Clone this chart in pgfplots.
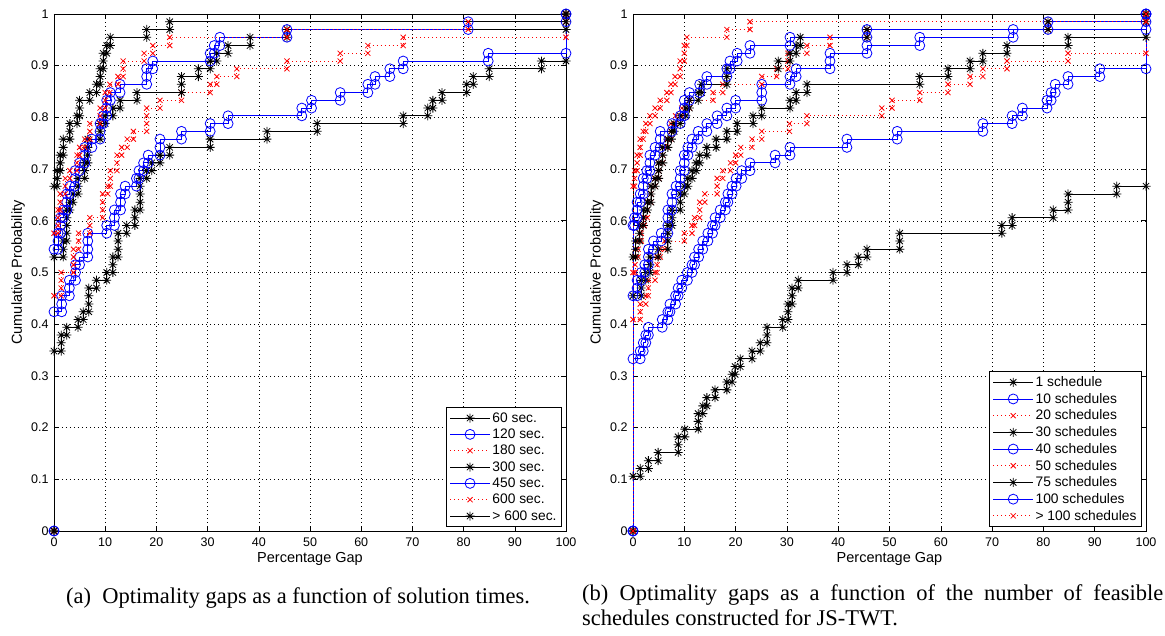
\documentclass[border=0pt]{standalone}
\usepackage{pgfplots}
\pgfplotsset{compat=1.18}
\usepackage{fontspec}
\setmainfont{Liberation Sans}
\newfontfamily\capfont{Liberation Serif}

% MATLAB-like eight-armed star
\pgfdeclareplotmark{mstar}{%
  \pgfpathmoveto{\pgfqpoint{-\pgfplotmarksize}{0pt}}\pgfpathlineto{\pgfqpoint{\pgfplotmarksize}{0pt}}%
  \pgfpathmoveto{\pgfqpoint{0pt}{-\pgfplotmarksize}}\pgfpathlineto{\pgfqpoint{0pt}{\pgfplotmarksize}}%
  \pgfpathmoveto{\pgfqpoint{-.707\pgfplotmarksize}{-.707\pgfplotmarksize}}\pgfpathlineto{\pgfqpoint{.707\pgfplotmarksize}{.707\pgfplotmarksize}}%
  \pgfpathmoveto{\pgfqpoint{-.707\pgfplotmarksize}{.707\pgfplotmarksize}}\pgfpathlineto{\pgfqpoint{.707\pgfplotmarksize}{-.707\pgfplotmarksize}}%
  \pgfusepathqstroke}

\pgfplotsset{
  cdf/.style={
    scale only axis, width=512pt, height=517pt,
    xmin=0, xmax=100, ymin=0, ymax=1, clip=false,
    xtick={0,10,20,30,40,50,60,70,80,90,100},
    ytick={0,0.1,0.2,0.3,0.4,0.5,0.6,0.7,0.8,0.9,1},
    /pgf/number format/assume math mode=true,
    tick label style={font=\fontsize{12.5}{14}\selectfont},
    xticklabel style={yshift=-3pt},
    yticklabel style={xshift=-2pt},
    label style={font=\fontsize{14.5}{16}\selectfont},
    xlabel={Percentage Gap}, ylabel={Cumulative Probability},
    xlabel style={at={(axis description cs:0.5,-0.0542)}, anchor=center},
    ylabel style={at={(axis description cs:-0.0703,0.5)}, anchor=center},
    grid=major, grid style={black, line width=0.5pt, dash pattern=on 0.5pt off 3.5pt},
    axis line style={line width=0.8pt},
    major tick length=5pt, tick style={black, line width=0.6pt}, tick align=inside,
    legend cell align=left,
    legend style={at={(axis description cs:0.992,0.0077)}, anchor=south east,
      draw=black, line width=0.8pt, fill=white, inner sep=3pt, row sep=1.2pt,
      font=\fontsize{13.8}{15}\selectfont},
    legend image code/.code={\draw[mark repeat=2,mark phase=2,#1] plot coordinates {(0pt,0pt) (20pt,0pt) (40pt,0pt)};},
  },
  blk/.style={black, line width=0.8pt, mark=mstar, mark size=4.5pt, mark options={solid}},
  blu/.style={blue, line width=0.8pt, mark=o, mark size=5pt, mark options={solid}},
  rd/.style={red, line width=0.8pt, dash pattern=on 1pt off 3pt, mark=x, mark size=3.6pt, mark options={solid}},
}

\begin{document}
\begin{tikzpicture}
\path[use as bounding box] (0,0) rectangle (1165pt,636pt);

% (a) solution times
\begin{axis}[cdf, at={(54pt,105pt)}, anchor=south west]
\addplot[blk] coordinates {(0,0)(0,.348)(1.4,.348)(1.4,.364)(1.4,.379)(2.5,.379)(2.5,.394)(4.7,.394)(4.7,.409)(5.7,.409)(5.7,.424)(6.8,.424)(6.8,.439)(6.8,.455)(6.8,.470)(8.3,.470)(8.3,.485)(10.3,.485)(10.3,.500)(11.5,.500)(11.5,.515)(11.5,.530)(12.5,.530)(12.5,.545)(12.5,.561)(12.5,.576)(14.2,.576)(14.2,.591)(15.8,.591)(15.8,.606)(15.8,.621)(16.8,.621)(16.8,.636)(16.8,.652)(16.8,.667)(16.8,.682)(18.1,.682)(18.1,.697)(19.1,.697)(19.1,.712)(20.7,.712)(20.7,.727)(22.6,.727)(22.6,.742)(30.5,.742)(30.5,.758)(41.6,.758)(41.6,.773)(51.4,.773)(51.4,.788)(68.2,.788)(68.2,.803)(73,.803)(73,.818)(74,.818)(74,.833)(75.8,.833)(75.8,.848)(80.6,.848)(80.6,.864)(81.9,.864)(81.9,.879)(85,.879)(85,.894)(95.2,.894)(95.2,.909)(100,.909)(100,1)};
\addlegendentry{60 sec.}
\addplot[blu] coordinates {(0,0)(0,.424)(1.5,.424)(1.5,.439)(1.5,.455)(3,.455)(3,.470)(3,.485)(4.2,.485)(4.2,.500)(4.2,.515)(5,.515)(5,.530)(6.6,.530)(6.6,.545)(6.6,.561)(6.6,.576)(10.3,.576)(10.3,.591)(11.8,.591)(11.8,.606)(11.8,.621)(13,.621)(13,.636)(13,.652)(13.9,.652)(13.9,.667)(16.1,.667)(16.1,.682)(16.6,.682)(16.6,.697)(17.5,.697)(17.5,.712)(18.4,.712)(18.4,.727)(20.7,.727)(20.7,.742)(20.7,.758)(24.9,.758)(24.9,.773)(30.5,.773)(30.5,.788)(34,.788)(34,.803)(48.4,.803)(48.4,.818)(50.3,.818)(50.3,.833)(55.9,.833)(55.9,.848)(61.3,.848)(61.3,.864)(62.7,.864)(62.7,.879)(65.6,.879)(65.6,.894)(68.2,.894)(68.2,.909)(84.8,.909)(84.8,.924)(100,.924)(100,1)};
\addlegendentry{120 sec.}
\addplot[rd] coordinates {(0,0)(0,.455)(1.4,.455)(1.4,.470)(1.4,.485)(1.4,.500)(3.8,.500)(3.8,.515)(3.8,.530)(3.8,.545)(4.8,.545)(4.8,.561)(4.8,.576)(7,.576)(7,.591)(7,.606)(9.5,.606)(9.5,.621)(9.5,.636)(9.5,.652)(10.5,.652)(10.5,.667)(11,.667)(11,.682)(11,.697)(12.3,.697)(12.3,.712)(12.3,.727)(13.2,.727)(13.2,.742)(14.3,.742)(14.3,.758)(15.5,.758)(15.5,.773)(18.1,.773)(18.1,.788)(18.1,.803)(18.1,.818)(20.7,.818)(20.7,.833)(24.9,.833)(24.9,.848)(30.5,.848)(30.5,.864)(31.8,.864)(31.8,.879)(35.7,.879)(35.7,.894)(45.5,.894)(45.5,.909)(55.9,.909)(55.9,.924)(61.3,.924)(61.3,.939)(68.2,.939)(68.2,.955)(100,.955)(100,1)};
\addlegendentry{180 sec.}
\addplot[blk] coordinates {(0,0)(0,.530)(1.8,.530)(1.8,.545)(1.8,.561)(2.5,.561)(2.5,.576)(2.5,.591)(2.5,.606)(2.5,.621)(3.1,.621)(3.1,.636)(3.7,.636)(3.7,.652)(4.7,.652)(4.7,.667)(4.7,.682)(6,.682)(6,.697)(6,.712)(6.6,.712)(6.6,.727)(6.6,.742)(6.6,.758)(9,.758)(9,.773)(9,.788)(10,.788)(10,.803)(11.5,.803)(11.5,.818)(12.9,.818)(12.9,.833)(16.2,.833)(16.2,.848)(24.9,.848)(24.9,.864)(24.9,.879)(28.2,.879)(28.2,.894)(30.5,.894)(30.5,.909)(31.8,.909)(31.8,.924)(34,.924)(34,.939)(38.3,.939)(38.3,.955)(45.5,.955)(45.5,.970)(100,.970)(100,1)};
\addlegendentry{300 sec.}
\addplot[blu] coordinates {(0,0)(0,.545)(0.8,.545)(0.8,.561)(0.8,.576)(1.3,.576)(1.3,.591)(1.3,.606)(1.8,.606)(1.8,.621)(2.5,.621)(2.5,.636)(2.5,.652)(3.1,.652)(3.1,.667)(4.1,.667)(4.1,.682)(4.1,.697)(5,.697)(5,.712)(6,.712)(6,.727)(6,.742)(7.4,.742)(7.4,.758)(9,.758)(9,.773)(9,.788)(9.6,.788)(9.6,.803)(10.3,.803)(10.3,.818)(10.3,.833)(11,.833)(11,.848)(12.9,.848)(12.9,.864)(18.1,.864)(18.1,.879)(18.1,.894)(19.3,.894)(19.3,.909)(30.5,.909)(30.5,.924)(31.3,.924)(31.3,.939)(32.4,.939)(32.4,.955)(45.5,.955)(45.5,.970)(80.9,.970)(80.9,.985)(100,.985)(100,1)};
\addlegendentry{450 sec.}
\addplot[rd] coordinates {(0,0)(0,.576)(0.8,.576)(0.8,.591)(0.8,.606)(0.8,.621)(1.2,.621)(1.2,.636)(1.2,.652)(2.2,.652)(2.2,.667)(2.2,.682)(3.1,.682)(3.1,.697)(4.5,.697)(4.5,.712)(4.5,.727)(5,.727)(5,.742)(6,.742)(6,.758)(7,.758)(7,.773)(7,.788)(9,.788)(9,.803)(9,.818)(10,.818)(10,.833)(10,.848)(10.9,.848)(10.9,.864)(12.5,.864)(12.5,.879)(13.5,.879)(13.5,.894)(13.5,.909)(17.6,.909)(17.6,.924)(19.3,.924)(19.3,.939)(22.6,.939)(22.6,.955)(45.5,.955)(45.5,.970)(80.9,.970)(80.9,.985)(100,.985)(100,1)};
\addlegendentry{600 sec.}
\addplot[blk] coordinates {(0,0)(0,.667)(0.6,.667)(0.6,.682)(0.6,.697)(1.2,.697)(1.2,.712)(1.2,.727)(1.8,.727)(1.8,.742)(1.8,.758)(3.1,.758)(3.1,.773)(3.1,.788)(4.5,.788)(4.5,.803)(5,.803)(5,.818)(5,.833)(7,.833)(7,.848)(8.3,.848)(8.3,.864)(9,.864)(9,.879)(9,.894)(9.6,.894)(9.6,.909)(9.6,.924)(10.3,.924)(10.3,.939)(11,.939)(11,.955)(18.1,.955)(18.1,.970)(22.6,.970)(22.6,.985)(100,.985)(100,1)};
\addlegendentry{> 600 sec.}
\end{axis}

% (b) number of feasible schedules
\begin{axis}[cdf, width=513pt, at={(633pt,105pt)}, anchor=south west]
\addplot[blk] coordinates {(0,0)(0,.106)(1.4,.106)(1.4,.121)(3,.121)(3,.136)(4.9,.136)(4.9,.152)(8.8,.152)(8.8,.167)(8.8,.182)(10.1,.182)(10.1,.197)(12.7,.197)(12.7,.212)(12.7,.227)(13.6,.227)(13.6,.242)(14.4,.242)(14.4,.258)(16,.258)(16,.273)(18.3,.273)(18.3,.288)(19.3,.288)(19.3,.303)(19.9,.303)(19.9,.318)(20.9,.318)(20.9,.333)(23.2,.333)(23.2,.348)(24.8,.348)(24.8,.364)(26.1,.364)(26.1,.379)(26.1,.394)(29.2,.394)(29.2,.409)(30.2,.409)(30.2,.424)(30.2,.439)(31,.439)(31,.455)(31,.470)(32.2,.470)(32.2,.485)(39,.485)(39,.500)(41.7,.500)(41.7,.515)(43.9,.515)(43.9,.530)(45.6,.530)(45.6,.545)(52,.545)(52,.561)(52,.576)(71.9,.576)(71.9,.591)(73.9,.591)(73.9,.606)(81.9,.606)(81.9,.621)(84.8,.621)(84.8,.636)(84.8,.652)(94.3,.652)(94.3,.667)(100,.667)(100,1)};
\addlegendentry{1 schedule}
\addplot[blu] coordinates {(0,0)(0,.333)(1.4,.333)(1.4,.348)(2,.348)(2,.364)(2.5,.364)(2.5,.379)(3,.379)(3,.394)(5.7,.394)(5.7,.409)(6.8,.409)(6.8,.424)(7.2,.424)(7.2,.439)(8.3,.439)(8.3,.455)(8.8,.455)(8.8,.470)(9.5,.470)(9.5,.485)(10.6,.485)(10.6,.500)(11.5,.500)(11.5,.515)(12,.515)(12,.530)(12.8,.530)(12.8,.545)(13.6,.545)(13.6,.561)(14.6,.561)(14.6,.576)(15.5,.576)(15.5,.591)(16,.591)(16,.606)(17,.606)(17,.621)(18,.621)(18,.636)(18.5,.636)(18.5,.652)(19.3,.652)(19.3,.667)(20.1,.667)(20.1,.682)(21.2,.682)(21.2,.697)(22.8,.697)(22.8,.712)(27.7,.712)(27.7,.727)(30.6,.727)(30.6,.742)(41.7,.742)(41.7,.758)(51.5,.758)(51.5,.773)(68.2,.773)(68.2,.788)(73.9,.788)(73.9,.803)(75.9,.803)(75.9,.818)(80.7,.818)(80.7,.833)(81.5,.833)(81.5,.848)(82.3,.848)(82.3,.864)(84.8,.864)(84.8,.879)(91,.879)(91,.894)(100,.894)(100,1)};
\addlegendentry{10 schedules}
\addplot[rd] coordinates {(0,0)(0,.409)(1.4,.409)(1.4,.424)(1.4,.439)(2.5,.439)(2.5,.455)(3,.455)(3,.470)(3,.485)(4.3,.485)(4.3,.500)(4.7,.500)(4.7,.515)(4.7,.530)(5.3,.530)(5.3,.545)(6.2,.545)(6.2,.561)(10,.561)(10,.576)(11.5,.576)(11.5,.591)(12,.591)(12,.606)(13,.606)(13,.621)(13,.636)(14,.636)(14,.652)(16.4,.652)(16.4,.667)(16.4,.682)(17.5,.682)(17.5,.697)(19,.697)(19,.712)(20,.712)(20,.727)(21,.727)(21,.742)(23.2,.742)(23.2,.758)(25.1,.758)(25.1,.773)(30.5,.773)(30.5,.788)(33.9,.788)(33.9,.803)(48.5,.803)(48.5,.818)(50.5,.818)(50.5,.833)(55.9,.833)(55.9,.848)(61.4,.848)(61.4,.864)(65.7,.864)(65.7,.879)(68.2,.879)(68.2,.894)(72.9,.894)(72.9,.909)(84.8,.909)(84.8,.924)(100,.924)(100,1)};
\addlegendentry{20 schedules}
\addplot[blk] coordinates {(0,0)(0,.455)(1.6,.455)(1.6,.470)(1.6,.485)(2.5,.485)(2.5,.500)(3.3,.500)(3.3,.515)(3.3,.530)(4.9,.530)(4.9,.545)(6.8,.545)(6.8,.561)(6.8,.576)(6.8,.591)(7.6,.591)(7.6,.606)(7.6,.621)(9.2,.621)(9.2,.636)(9.2,.652)(10,.652)(10,.667)(10.7,.667)(10.7,.682)(11.5,.682)(11.5,.697)(12.3,.697)(12.3,.712)(13,.712)(13,.727)(14.4,.727)(14.4,.742)(16.2,.742)(16.2,.758)(18.3,.758)(18.3,.773)(20.3,.773)(20.3,.788)(23.4,.788)(23.4,.803)(25.1,.803)(25.1,.818)(30.6,.818)(30.6,.833)(31.8,.833)(31.8,.848)(33.9,.848)(33.9,.864)(55.9,.864)(55.9,.879)(61.4,.879)(61.4,.894)(65.7,.894)(65.7,.909)(68.2,.909)(68.2,.924)(72.9,.924)(72.9,.939)(84.8,.939)(84.8,.955)(100,.955)(100,1)};
\addlegendentry{30 schedules}
\addplot[blu] coordinates {(0,0)(0,.455)(0.8,.455)(0.8,.470)(0.8,.485)(1.6,.485)(1.6,.500)(2.3,.500)(2.3,.515)(3,.515)(3,.530)(3,.545)(4,.545)(4,.561)(5.5,.561)(5.5,.576)(6.8,.576)(6.8,.591)(6.8,.606)(6.8,.621)(7.6,.621)(7.6,.636)(7.6,.652)(8.4,.652)(8.4,.667)(9.2,.667)(9.2,.682)(9.2,.697)(10,.697)(10,.712)(10,.727)(10.7,.727)(10.7,.742)(11.5,.742)(11.5,.758)(12.7,.758)(12.7,.773)(14.4,.773)(14.4,.788)(16.4,.788)(16.4,.803)(18.3,.803)(18.3,.818)(20,.818)(20,.833)(25.1,.833)(25.1,.848)(25.1,.864)(30.6,.864)(30.6,.879)(31.8,.879)(31.8,.894)(38.4,.894)(38.4,.909)(38.4,.924)(45.6,.924)(45.6,.939)(55.9,.939)(55.9,.955)(74.1,.955)(74.1,.970)(100,.970)(100,1)};
\addlegendentry{40 schedules}
\addplot[rd] coordinates {(0,0)(0,.500)(0.4,.500)(0.4,.515)(0.4,.530)(1,.530)(1,.545)(1,.561)(1.6,.561)(1.6,.576)(1.6,.591)(2.2,.591)(2.2,.606)(2.8,.606)(2.8,.621)(2.8,.636)(3.5,.636)(3.5,.652)(3.5,.667)(4.3,.667)(4.3,.682)(5,.682)(5,.697)(5,.712)(5.8,.712)(5.8,.727)(5.8,.742)(6.6,.742)(6.6,.758)(7.4,.758)(7.4,.773)(7.4,.788)(8.3,.788)(8.3,.803)(9.5,.803)(9.5,.818)(11,.818)(11,.833)(15.6,.833)(15.6,.848)(17.5,.848)(17.5,.864)(25.1,.864)(25.1,.879)(28,.879)(28,.894)(30.2,.894)(30.2,.909)(30.2,.924)(33.9,.924)(33.9,.939)(38.4,.939)(38.4,.955)(45.6,.955)(45.6,.970)(80.9,.970)(80.9,.985)(100,.985)(100,1)};
\addlegendentry{50 schedules}
\addplot[blk] coordinates {(0,0)(0,.530)(0.5,.530)(0.5,.545)(0.5,.561)(1.3,.561)(1.3,.576)(1.3,.591)(2,.591)(2,.606)(2,.621)(2.8,.621)(2.8,.636)(3.5,.636)(3.5,.652)(3.5,.667)(4.3,.667)(4.3,.682)(5,.682)(5,.697)(5,.712)(5.8,.712)(5.8,.727)(5.8,.742)(6.8,.742)(6.8,.758)(7.5,.758)(7.5,.773)(8,.773)(8,.788)(9.2,.788)(9.2,.803)(10.3,.803)(10.3,.818)(11,.818)(11,.833)(12.7,.833)(12.7,.848)(13.4,.848)(13.4,.864)(18.3,.864)(18.3,.879)(18.3,.894)(28.3,.894)(28.3,.909)(30.6,.909)(30.6,.924)(31.8,.924)(31.8,.939)(32.6,.939)(32.6,.955)(45.6,.955)(45.6,.970)(80.9,.970)(80.9,.985)(100,.985)(100,1)};
\addlegendentry{75 schedules}
\addplot[blu] coordinates {(0,0)(0,.591)(0.3,.591)(0.3,.606)(0.8,.606)(0.8,.621)(0.8,.636)(1.4,.636)(1.4,.652)(2,.652)(2,.667)(2,.682)(2.7,.682)(2.7,.697)(3.3,.697)(3.3,.712)(3.3,.727)(4.3,.727)(4.3,.742)(5.3,.742)(5.3,.758)(5.3,.773)(7.6,.773)(7.6,.788)(9.2,.788)(9.2,.803)(10,.803)(10,.818)(10,.833)(11,.833)(11,.848)(13,.848)(13,.864)(14.4,.864)(14.4,.879)(18.3,.879)(18.3,.894)(18.9,.894)(18.9,.909)(20.3,.909)(20.3,.924)(22.8,.924)(22.8,.939)(30.6,.939)(30.6,.955)(45.6,.955)(45.6,.970)(80.9,.970)(80.9,.985)(100,.985)(100,1)};
\addlegendentry{100 schedules}
\addplot[rd] coordinates {(0,0)(0,.667)(0.3,.667)(0.3,.682)(0.3,.697)(0.8,.697)(0.8,.712)(0.8,.727)(1.4,.727)(1.4,.742)(1.4,.758)(2,.758)(2,.773)(2.5,.773)(2.5,.788)(3.3,.788)(3.3,.803)(4.3,.803)(4.3,.818)(5.3,.818)(5.3,.833)(6.6,.833)(6.6,.848)(7.4,.848)(7.4,.864)(8.2,.864)(8.2,.879)(9.2,.879)(9.2,.894)(9.2,.909)(10,.909)(10,.924)(10,.939)(10.5,.939)(10.5,.955)(18.3,.955)(18.3,.970)(22.8,.970)(22.8,.985)(100,.985)(100,1)};
\addlegendentry{> 100 schedules}
\end{axis}

\node[font=\capfont\fontsize{22.5}{26}\selectfont] at (298pt,38pt) {(a)\enspace Optimality gaps as a function of solution times.};
\node[anchor=north west, inner sep=0pt, text width=581pt, align=justify, font=\capfont\fontsize{22.5}{25}\selectfont] at (582pt,52pt) {(b)\enspace Optimality gaps as a function of the number of feasible \mbox{schedules} constructed for JS-TWT.};
\end{tikzpicture}
\end{document}
